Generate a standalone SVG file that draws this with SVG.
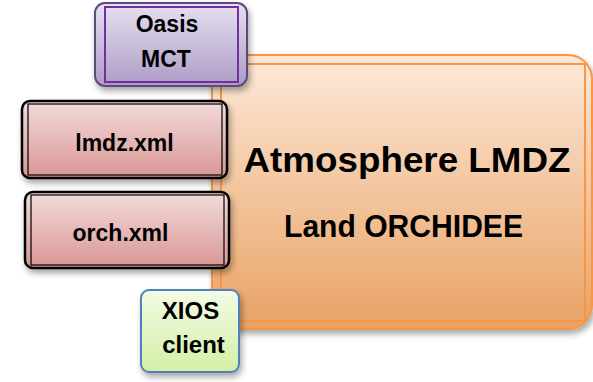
<svg xmlns="http://www.w3.org/2000/svg" width="593" height="382" viewBox="0 0 593 382">
  <defs>
    <linearGradient id="gOrange" x1="0" y1="0" x2="0" y2="1">
      <stop offset="0" stop-color="#fde9d9"/>
      <stop offset="1" stop-color="#fbbf88"/>
    </linearGradient>
    <linearGradient id="gOrangeOuter" x1="0" y1="0" x2="0" y2="1">
      <stop offset="0" stop-color="#fde9d9"/>
      <stop offset="1" stop-color="#e9a264"/>
    </linearGradient>
    <linearGradient id="gPurple" x1="0" y1="0" x2="0" y2="1">
      <stop offset="0" stop-color="#e6e0f0"/>
      <stop offset="1" stop-color="#ad9bc6"/>
    </linearGradient>
    <linearGradient id="gRed" x1="0" y1="0" x2="0" y2="1">
      <stop offset="0" stop-color="#f2dcdb"/>
      <stop offset="1" stop-color="#d99694"/>
    </linearGradient>
    <linearGradient id="gGreen" x1="0" y1="0" x2="0" y2="1">
      <stop offset="0" stop-color="#f3fbe6"/>
      <stop offset="1" stop-color="#d5efa5"/>
    </linearGradient>
    <filter id="shadow" x="-10%" y="-10%" width="125%" height="130%">
      <feDropShadow dx="2" dy="4" stdDeviation="3" flood-color="#000" flood-opacity="0.35"/>
    </filter>
  </defs>
  <style>
    .lbl { font-family: "Liberation Sans", Arial, sans-serif; font-weight: bold; fill: #000; text-anchor: middle; }
    .small { font-size: 23px; }
    .orangeLine { fill: none; stroke: #f79646; stroke-width: 2; }
  </style>
  <rect width="593" height="382" fill="#ffffff"/>

  <g id="main">
    <rect x="212" y="55" width="380" height="274" rx="24" fill="url(#gOrangeOuter)" stroke="#f79646" stroke-width="2" filter="url(#shadow)"/>
    <rect x="221" y="64" width="364" height="257" fill="url(#gOrange)" class="orangeLine"/>
    <text class="lbl" x="407" y="172" font-size="35" textLength="327" lengthAdjust="spacingAndGlyphs">Atmosphere LMDZ</text>
    <text class="lbl" x="403.5" y="237" font-size="31" textLength="239" lengthAdjust="spacingAndGlyphs">Land ORCHIDEE</text>
  </g>

  <g id="oasis">
    <rect x="95" y="3" width="152" height="83" rx="10" fill="url(#gPurple)" stroke="#5f497a" stroke-width="2" filter="url(#shadow)"/>
    <rect x="105" y="7" width="133" height="75" fill="none" stroke="#7030a0" stroke-width="2"/>
    <text class="lbl small" x="167" y="32">Oasis</text>
    <text class="lbl small" x="166" y="67">MCT</text>
  </g>

  <g id="lmdz">
    <rect x="22" y="101" width="205" height="77" rx="8" fill="url(#gRed)" stroke="#000" stroke-width="2.5" filter="url(#shadow)"/>
    <rect x="28" y="104" width="194" height="71" fill="none" stroke="#000" stroke-width="1.2"/>
    <text class="lbl small" x="124.5" y="151">lmdz.xml</text>
  </g>

  <g id="orch">
    <rect x="25" y="192" width="204" height="76" rx="8" fill="url(#gRed)" stroke="#000" stroke-width="2.5" filter="url(#shadow)"/>
    <rect x="31" y="195" width="193" height="70" fill="none" stroke="#000" stroke-width="1.2"/>
    <text class="lbl small" x="120.5" y="241">orch.xml</text>
  </g>

  <g id="xios">
    <rect x="141" y="290" width="98" height="82" rx="8" fill="url(#gGreen)" stroke="#4f81bd" stroke-width="2" filter="url(#shadow)"/>
    <text class="lbl" x="190.5" y="319" font-size="24">XIOS</text>
    <text class="lbl" x="193.5" y="353" font-size="24">client</text>
  </g>

  <g id="connectors"/>
</svg>
